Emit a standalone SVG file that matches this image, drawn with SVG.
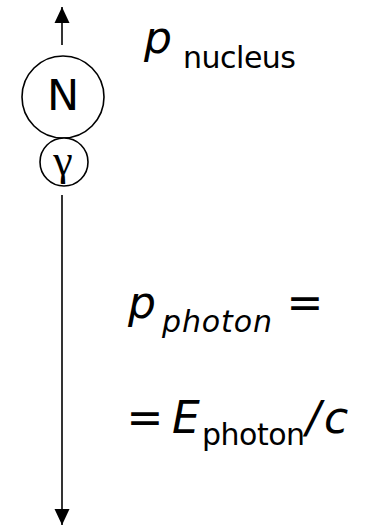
<svg xmlns="http://www.w3.org/2000/svg" width="373" height="528" viewBox="0 0 373 528">
  <style>
    .ln { stroke: #000; stroke-width: 1.6; fill: none; }
    .node { stroke: #000; stroke-width: 1.6; fill: #fff; }
    .t { font-family: "DejaVu Sans", "Liberation Sans", sans-serif; fill: #000; }
    .it { font-style: italic; }
    .big { font-size: 44px; }
    .sub { font-size: 30px; }
  </style>
  <defs>
    <marker id="ah" viewBox="0 0 16 16" refX="16" refY="8" markerWidth="16" markerHeight="16" markerUnits="userSpaceOnUse" orient="auto">
      <path d="M0,0.5 L16,8 L0,15.5 Z" fill="#000"/>
    </marker>
  </defs>
  <g id="connectors">
    <line class="ln" x1="62" y1="45" x2="62" y2="7" marker-end="url(#ah)"/>
    <line class="ln" x1="62" y1="195" x2="62" y2="525" marker-end="url(#ah)"/>
  </g>
  <g id="nucleus">
    <circle class="node" cx="63" cy="97" r="41"/>
    <text class="t" x="63" y="110" font-size="43" text-anchor="middle">N</text>
  </g>
  <g id="photon">
    <circle class="node" cx="64" cy="162" r="24"/>
    <text x="63" y="175" font-family="Liberation Serif, serif" font-size="44" text-anchor="middle">γ</text>
  </g>
  <g id="labels">
    <text class="t it big" x="144" y="53">p</text>
    <text class="t sub" x="183" y="68" textLength="113">nucleus</text>
    <text class="t it big" x="128" y="318">p</text>
    <text class="t it sub" x="162" y="332" textLength="110">photon</text>
    <text class="t big" x="305" y="318" text-anchor="middle">=</text>
    <text class="t big" x="145" y="433" text-anchor="middle">=</text>
    <text class="t it big" x="172" y="433">E</text>
    <text class="t sub" x="202" y="445" textLength="103">photon</text>
    <text class="t it big" x="306" y="433">/</text>
    <text class="t it big" x="324" y="433">c</text>
  </g>
</svg>
